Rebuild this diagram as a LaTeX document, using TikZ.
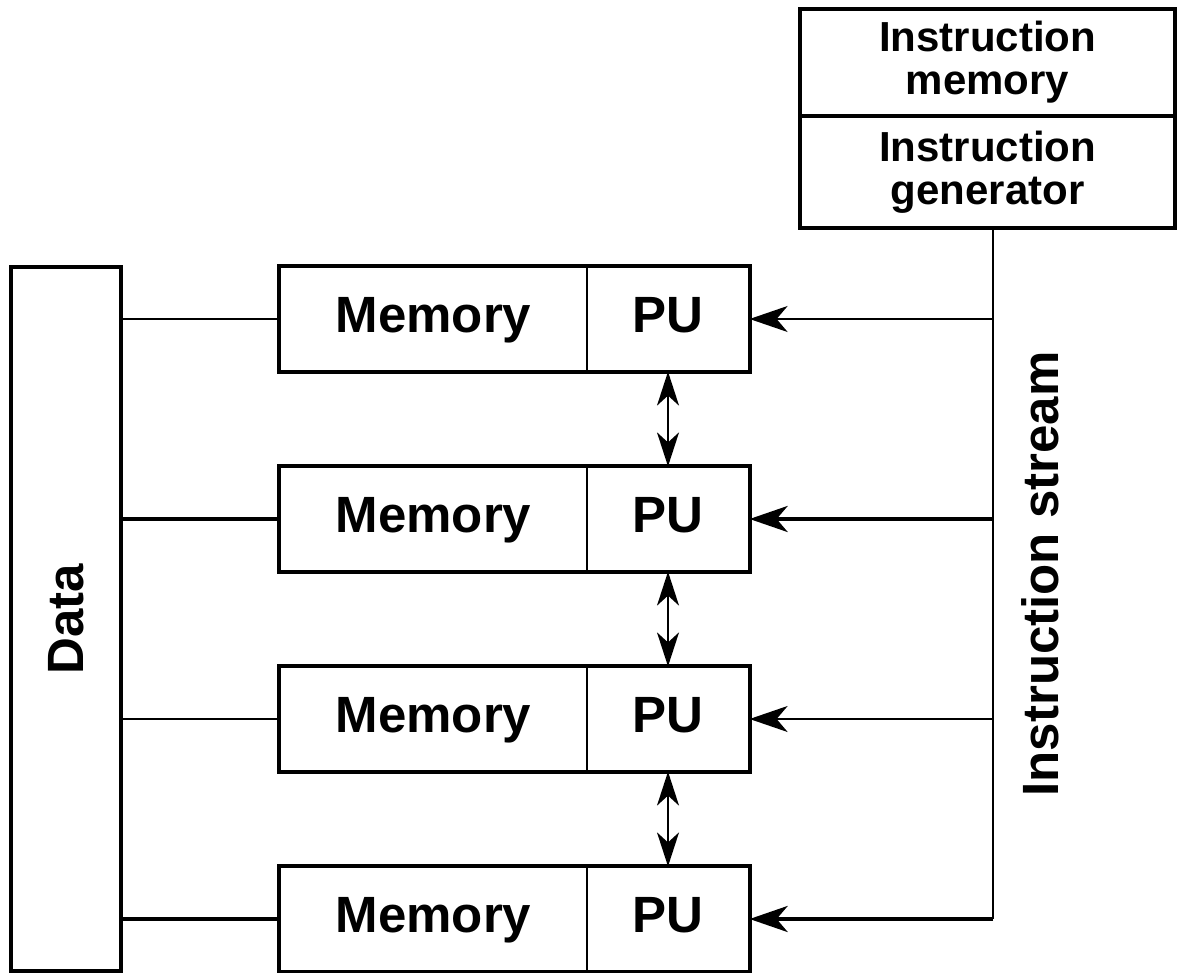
\documentclass[tikz,border=0pt]{standalone}
\usepackage{fontspec}
\setmainfont{Liberation Sans}
\usetikzlibrary{arrows.meta}

\tikzset{
  bigtext/.style={font=\fontsize{51}{51}\selectfont\bfseries},
  smalltext/.style={font=\fontsize{42}{43}\selectfont\bfseries, align=center},
  cell/.style={draw, line width=1.2pt, minimum height=104pt, inner sep=0pt, text height=37pt, text depth=10pt, bigtext},
  frame/.style={line width=4pt},
  thinlink/.style={line width=2pt},
  boldlink/.style={line width=4pt},
  feed/.style={-{Stealth[length=38pt,width=26pt,inset=11pt]}},
  pair/.style={{Stealth[length=34pt,width=22pt,inset=10pt]}-{Stealth[length=34pt,width=22pt,inset=10pt]}, line width=2pt}
}

\begin{document}
\begin{tikzpicture}[x=1pt,y=-1pt]
\useasboundingbox (0,0) rectangle (1177,973);

% instruction unit
\node[draw, frame, smalltext, minimum width=375pt, minimum height=107pt, inner sep=0pt] (imem) at (987.5,62.5) {Instruction\\memory};
\node[draw, frame, smalltext, minimum width=375pt, minimum height=112pt, inner sep=0pt] (igen) at (987.5,172) {Instruction\\generator};

% data
\node[draw, frame, minimum width=110pt, minimum height=704pt, label={[rotate=90, bigtext]center:Data}] (data) at (66,619) {};

\node[cell, minimum width=307pt] (mem1) at (433.5,319) {Memory};
\node[cell, minimum width=162pt] (pu1) at (668,319) {PU};
\node[cell, minimum width=307pt] (mem2) at (433.5,519) {Memory};
\node[cell, minimum width=162pt] (pu2) at (668,519) {PU};
\node[cell, minimum width=307pt] (mem3) at (433.5,719) {Memory};
\node[cell, minimum width=162pt] (pu3) at (668,719) {PU};
\node[cell, minimum width=307pt] (mem4) at (433.5,919) {Memory};
\node[cell, minimum width=162pt] (pu4) at (668,919) {PU};
\draw[frame] (mem1.north west) rectangle (pu1.south east);
\draw[frame] (mem2.north west) rectangle (pu2.south east);
\draw[frame] (mem3.north west) rectangle (pu3.south east);
\draw[frame] (mem4.north west) rectangle (pu4.south east);

\node[rotate=90, bigtext] (stream) at (1040,574) {Instruction stream};

% data lines
\draw[thinlink] (data.east |- mem1.west) -- (mem1.west);
\draw[boldlink] (data.east |- mem2.west) -- (mem2.west);
\draw[thinlink] (data.east |- mem3.west) -- (mem3.west);
\draw[boldlink] (data.east |- mem4.west) -- (mem4.west);

% instruction bus
\coordinate (bus) at (993,919);
\draw[thinlink] (igen.south -| bus) -- (bus);
\draw[thinlink, feed] (bus |- pu1.east) -- (pu1.east);
\draw[boldlink, feed] (bus |- pu2.east) -- (pu2.east);
\draw[thinlink, feed] (bus |- pu3.east) -- (pu3.east);
\draw[boldlink, feed] (bus) -- (pu4.east);

% PU to PU
\draw[pair] (pu1.south) -- (pu2.north);
\draw[pair] (pu2.south) -- (pu3.north);
\draw[pair] (pu3.south) -- (pu4.north);
\end{tikzpicture}
\end{document}
